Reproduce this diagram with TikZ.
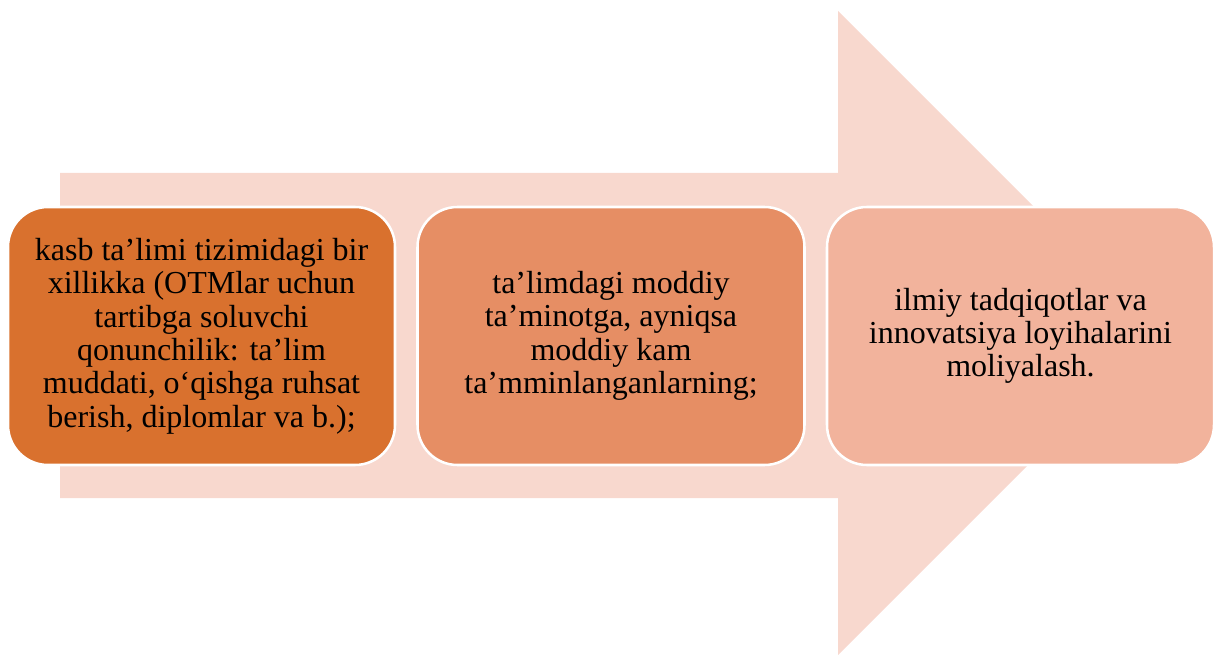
\documentclass[tikz,border=0pt]{standalone}
\usepackage{fontspec}
\setmainfont{Liberation Serif}
\definecolor{arrowfill}{RGB}{248,216,206}
\definecolor{boxone}{RGB}{217,113,46}
\definecolor{boxtwo}{RGB}{230,142,100}
\definecolor{boxthree}{RGB}{242,179,156}
\tikzset{every picture/.style={line width=0.75pt}}
\tikzset{stagebox/.style={draw=white, line width=1.9pt, rounded corners=30pt,
    minimum width=290.25pt, minimum height=193.5pt, align=center, inner sep=0pt,
    font=\fontsize{24}{25}\selectfont, text=black}}

\begin{document}
\begin{tikzpicture}[x=0.75pt,y=0.75pt,yscale=-1,xscale=1]
\useasboundingbox (0,0) rectangle (1213,655);

%Shape: Right Arrow
\fill [arrowfill] (60,173) -- (838,173) -- (838,11) -- (1160,333) -- (838,655) -- (838,498) -- (60,498) -- cycle ;

% Stage boxes
\node (kasb) [stagebox, fill=boxone] at (201.5,336) {kasb ta’limi tizimidagi bir\\xillikka (OTMlar uchun\\tartibga soluvchi\\qonunchilik: ta’lim\\muddati, o‘qishga ruhsat\\berish, diplomlar va b.);};
\node (moddiy) [stagebox, fill=boxtwo] at (611,336) {ta’limdagi moddiy\\ta’minotga, ayniqsa\\moddiy kam\\ta’mminlanganlarning;};
\node (ilmiy) [stagebox, fill=boxthree] at (1020.5,336) {ilmiy tadqiqotlar va\\innovatsiya loyihalarini\\moliyalash.};

\end{tikzpicture}
\end{document}
